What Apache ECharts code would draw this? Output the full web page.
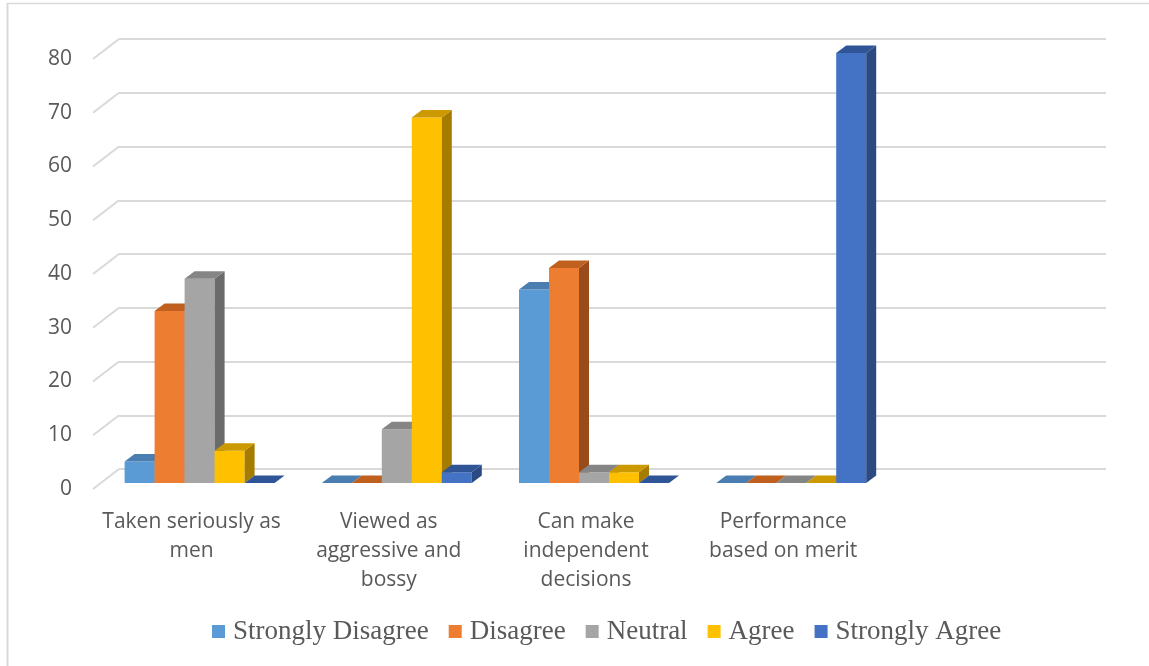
<!DOCTYPE html>
<html><head><meta charset="utf-8">
<script src="https://cdn.jsdelivr.net/npm/echarts@6/dist/echarts.min.js"></script>
<style>html,body{margin:0;padding:0;background:#fff}#c{width:1149px;height:666px}</style>
</head><body><div id="c"></div>
<script>
const categories = ['Taken seriously as\nmen', 'Viewed as\naggressive and\nbossy', 'Can make\nindependent\ndecisions', 'Performance\nbased on merit'];
const seriesNames = ['Strongly Disagree', 'Disagree', 'Neutral', 'Agree', 'Strongly Agree'];
const stronglyDisagree = [4, 0, 36, 0];
const disagree = [32, 0, 40, 0];
const neutral = [38, 10, 2, 0];
const agree = [6, 68, 2, 0];
const stronglyAgree = [0, 2, 0, 80];
const yTicks = [0, 10, 20, 30, 40, 50, 60, 70, 80];

const values = [stronglyDisagree, disagree, neutral, agree, stronglyAgree];
const frontColors = ['#5B9BD5', '#ED7D31', '#A5A5A5', '#FFC000', '#4472C4'];
const topColors = ['#4A7EB0', '#C0601F', '#858585', '#CC9A00', '#2F5597'];
const sideColors = ['#3C6690', '#9A4B1A', '#6B6B6B', '#A67C00', '#2C4A82'];
const axisCats = categories.concat(['']);
const DX = 10, DY = -7.5;
const TXT = '#595959';

const chart = echarts.init(document.getElementById('c'));

function barRender(si) {
  return function (params, api) {
    const cat = api.value(0), v = api.value(1);
    const base = api.coord([cat, 0]);
    const top = api.coord([cat, v]);
    const bw = api.size([1, 0])[0] * (150 / 197.2) / 5;
    const x0 = base[0] - 2.5 * bw + si * bw;
    const by = base[1], ty = top[1];
    const children = [];
    if (by - ty > 0.1) {
      children.push({ type: 'rect', shape: { x: x0, y: ty, width: bw, height: by - ty }, style: { fill: frontColors[si] } });
      children.push({ type: 'polygon', shape: { points: [[x0 + bw, ty], [x0 + bw + DX, ty + DY], [x0 + bw + DX, by + DY], [x0 + bw, by]] }, style: { fill: sideColors[si] } });
    }
    children.push({ type: 'polygon', shape: { points: [[x0, ty], [x0 + DX, ty + DY], [x0 + bw + DX, ty + DY], [x0 + bw, ty]] }, style: { fill: topColors[si] } });
    return { type: 'group', children: children };
  };
}

const series = [];
// diagonal left-wall lines
series.push({
  type: 'custom', xAxisIndex: 1, yAxisIndex: 1, silent: true,
  data: yTicks.map(t => [0, t]),
  renderItem: function (params, api) {
    const p = api.coord([0, api.value(1)]);
    const x = params.coordSys.x;
    return { type: 'line', shape: { x1: x, y1: p[1], x2: x + 26, y2: p[1] - 20 }, style: { stroke: '#d9d9d9', lineWidth: 2 } };
  }
});
seriesNames.forEach((name, si) => {
  series.push({
    name: name, type: 'custom', xAxisIndex: 2, yAxisIndex: 2,
    itemStyle: { color: frontColors[si] },
    data: values[si].map((v, i) => [i, v]),
    encode: { x: 0, y: 1 },
    renderItem: barRender(si)
  });
});

chart.setOption({
  animation: false,
  backgroundColor: '#fff',
  graphic: [
    { type: 'line', shape: { x1: 7, y1: 3.5, x2: 1149, y2: 3.5 }, style: { stroke: '#d9d9d9', lineWidth: 1.5 } },
    { type: 'line', shape: { x1: 7.5, y1: 3, x2: 7.5, y2: 666 }, style: { stroke: '#d9d9d9', lineWidth: 2 } }
  ],
  legend: {
    bottom: 16, left: 207,
    itemWidth: 13, itemHeight: 13, itemGap: 20,
    icon: 'rect',
    textStyle: { fontFamily: 'Liberation Serif', fontSize: 27, color: TXT, padding: [0, 0, 0, 3] },
    data: seriesNames.map((n, i) => ({ name: n, itemStyle: { color: frontColors[i] } }))
  },
  grid: [
    { left: 119, right: 43, top: 39, bottom: 197 },
    { left: 93, right: 70, top: 59, bottom: 177 },
    { left: 101, right: 62, top: 53, bottom: 183 }
  ],
  xAxis: [
    { gridIndex: 0, type: 'category', data: axisCats, show: false },
    { gridIndex: 1, type: 'category', data: axisCats, axisLine: { show: false }, axisTick: { show: false },
      axisLabel: { interval: 0, margin: 19, color: TXT, fontFamily: 'Open Sans', fontSize: 21, lineHeight: 29 } },
    { gridIndex: 2, type: 'category', data: axisCats, show: false }
  ],
  yAxis: [
    { gridIndex: 0, type: 'value', min: 0, max: 80, interval: 10, axisLabel: { show: false }, axisLine: { show: false }, axisTick: { show: false },
      splitLine: { lineStyle: { color: '#d9d9d9', width: 2 } } },
    { gridIndex: 1, type: 'value', min: 0, max: 80, interval: 10, axisLine: { show: false }, axisTick: { show: false }, splitLine: { show: false },
      axisLabel: { margin: 21, color: TXT, fontFamily: 'Open Sans', fontSize: 21 } },
    { gridIndex: 2, type: 'value', min: 0, max: 80, interval: 10, show: false }
  ],
  series: series
});
</script></body></html>
